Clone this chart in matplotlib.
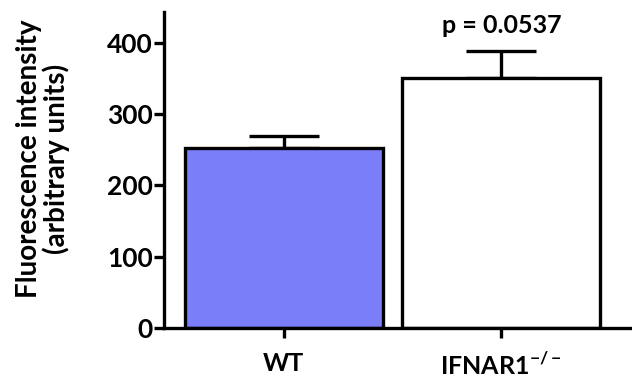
import matplotlib
matplotlib.use("Agg")
import matplotlib.pyplot as plt

categories = ["WT", "IFNAR1$^{\\mathbf{-/-}}$"]
means = [252, 350]
errors = [17, 38]
colors = ["#7a7ef8", "#ffffff"]
yticks = [0, 100, 200, 300, 400]
pval_text = "p = 0.0537"

plt.rcParams['font.family'] = ['Lato', 'DejaVu Sans']
plt.rcParams['font.weight'] = 'bold'
plt.rcParams['mathtext.fontset'] = 'custom'
plt.rcParams['mathtext.bf'] = 'Lato:bold'
plt.rcParams['mathtext.rm'] = 'Lato:bold'

fig = plt.figure(figsize=(6.32, 3.85), dpi=100)
ax = fig.add_axes([0.2595, 0.148, 0.7405, 0.821])

lw = 2.4
x = list(range(len(categories)))
ax.bar(x, means, width=0.91, color=colors, edgecolor="black", linewidth=lw, zorder=2)
ax.errorbar(x, means, yerr=[[0]*len(errors), errors], fmt="none", ecolor="black",
            elinewidth=lw, capsize=25, capthick=lw, zorder=1)

ax.set_xlim(-0.55, 1.6)
ax.set_ylim(0, 443)
ax.set_yticks(yticks)
ax.set_yticklabels([str(v) for v in yticks], fontsize=19, fontweight='bold')
ax.set_xticks(x)
ax.set_xticklabels(categories, fontsize=18, fontweight='bold')
ax.tick_params(axis='both', width=lw, length=7, pad=1)
ax.tick_params(axis='x', pad=10)
for s in ['top', 'right']:
    ax.spines[s].set_visible(False)
for s in ['left', 'bottom']:
    ax.spines[s].set_linewidth(lw)

ax.set_ylabel("Fluorescence intensity\n(arbitrary units)", fontsize=20, fontweight='bold',
              linespacing=1.05)
ax.yaxis.set_label_coords(-0.2, 0.535)
ax.text(1, means[1] + errors[1] + 20, pval_text, ha='center', va='bottom',
        fontsize=18, fontweight='bold')

fig.savefig("out.png", dpi=100)
